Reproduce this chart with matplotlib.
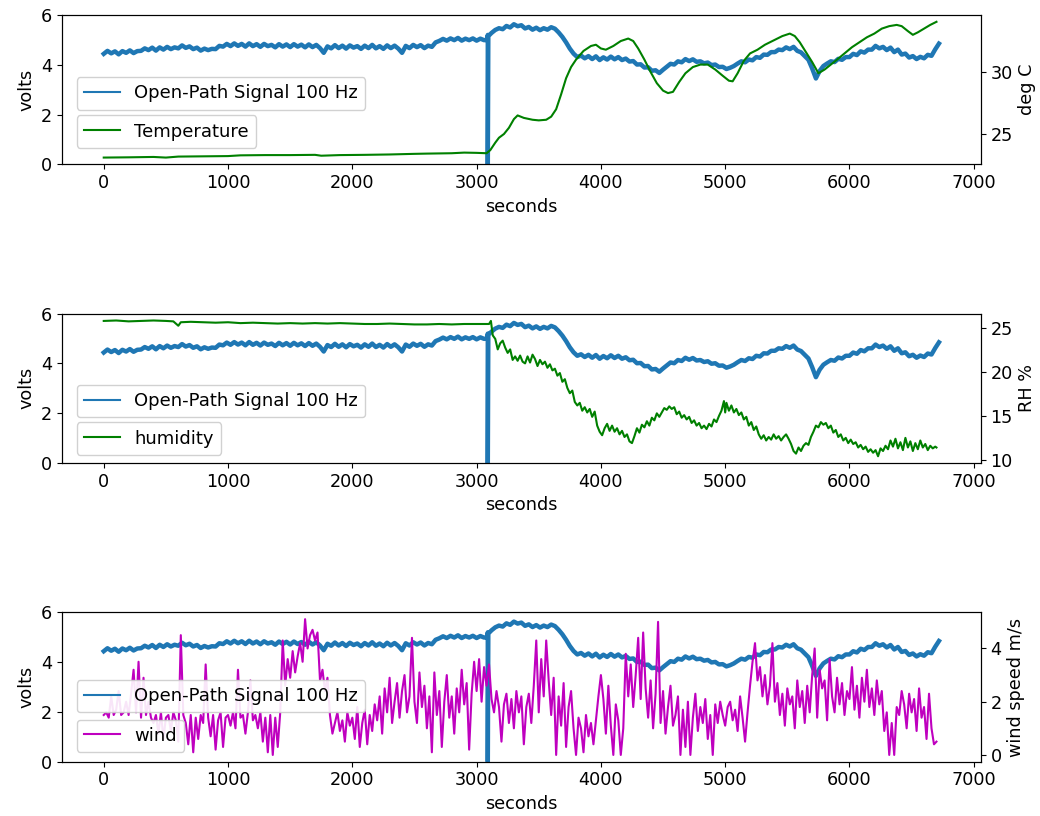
import numpy as np
import matplotlib
matplotlib.use("Agg")
import matplotlib.pyplot as plt

plt.rcParams['font.size'] = 12.7
plt.rcParams['font.family'] = ['DejaVu Sans']

# ---------------- data ----------------
signal_step = 30  # seconds between regular signal samples
signal_volts = [
    4.44, 4.56, 4.46, 4.54, 4.42, 4.55, 4.48, 4.58, 4.47, 4.55,
    4.56, 4.66, 4.59, 4.69, 4.57, 4.70, 4.61, 4.72, 4.63, 4.70,
    4.66, 4.78, 4.68, 4.74, 4.63, 4.69, 4.57, 4.65, 4.59, 4.64,
    4.63, 4.76, 4.73, 4.84, 4.75, 4.86, 4.76, 4.84, 4.73, 4.86,
    4.75, 4.83, 4.72, 4.84, 4.75, 4.80, 4.70, 4.83, 4.73, 4.82,
    4.71, 4.83, 4.73, 4.81, 4.70, 4.82, 4.71, 4.80, 4.67, 4.48,
    4.74, 4.66, 4.79, 4.67, 4.77, 4.65, 4.78, 4.69, 4.75, 4.64,
    4.77, 4.67, 4.80, 4.66, 4.75, 4.64, 4.78, 4.67, 4.77, 4.65,
    4.48, 4.76, 4.67, 4.80, 4.71, 4.79, 4.67, 4.77, 4.72, 4.90,
    4.96, 5.04, 4.97, 5.06, 4.99, 5.08, 4.97, 5.05, 4.99, 5.06,
    4.97, 5.05, 4.99, 5.20, 5.28, 5.40, 5.47, 5.43, 5.56, 5.50,
    5.63, 5.55, 5.59, 5.46, 5.52, 5.41, 5.49, 5.39, 5.47, 5.41,
    5.51, 5.45, 5.30, 5.12, 4.90, 4.65, 4.45, 4.31, 4.37, 4.26,
    4.35, 4.23, 4.34, 4.19, 4.30, 4.21, 4.33, 4.22, 4.31, 4.19,
    4.25, 4.13, 4.15, 4.01, 4.02, 3.89, 3.90, 3.76, 3.78, 3.67,
    3.80, 3.92, 4.04, 4.01, 4.14, 4.10, 4.23, 4.15, 4.22, 4.12,
    4.14, 4.06, 4.09, 3.99, 4.01, 3.91, 3.92, 3.83, 3.88, 3.95,
    4.05, 4.14, 4.10, 4.21, 4.18, 4.31, 4.28, 4.41, 4.40, 4.51,
    4.51, 4.61, 4.59, 4.70, 4.63, 4.72, 4.56, 4.50, 4.35, 4.20,
    3.85, 3.45, 3.75, 3.95, 4.05, 4.14, 4.11, 4.24, 4.20, 4.31,
    4.31, 4.44, 4.39, 4.54, 4.49, 4.61, 4.61, 4.76, 4.66, 4.72,
    4.59, 4.69, 4.51, 4.61, 4.41, 4.45, 4.29, 4.35, 4.23, 4.32,
    4.26, 4.40, 4.36, 4.62, 4.85,
]
# short sensor dropout near 3090 s
dropout_t = [3086, 3090, 3094]
dropout_v = [5.00, 0.00, 5.15]

temp_t = [0, 200, 400, 500, 600, 800, 1000, 1100, 1300, 1500, 1700, 1750, 1900,
          2100, 2300, 2500, 2600, 2800, 2900, 3000, 3080, 3110, 3150, 3180, 3220,
          3260, 3300, 3330, 3380, 3450, 3500, 3560, 3600, 3640, 3680, 3720, 3760,
          3800, 3860, 3920, 3960, 4000, 4040, 4100, 4160, 4220, 4260, 4300, 4350,
          4400, 4450, 4500, 4540, 4580, 4630, 4680, 4740, 4800, 4860, 4920, 4980,
          5030, 5060, 5100, 5150, 5200, 5260, 5320, 5400, 5460, 5520, 5560, 5600,
          5650, 5700, 5750, 5800, 5850, 5900, 5960, 6020, 6080, 6140, 6200, 6260,
          6320, 6380, 6420, 6470, 6510, 6550, 6600, 6650, 6700]
temp_c = [23.10, 23.12, 23.15, 23.10, 23.18, 23.20, 23.22, 23.28, 23.30, 23.30,
          23.32, 23.25, 23.30, 23.32, 23.35, 23.40, 23.42, 23.45, 23.50, 23.48,
          23.45, 23.70, 24.30, 24.70, 25.00, 25.50, 26.20, 26.50, 26.30, 26.15,
          26.10, 26.15, 26.40, 27.00, 28.20, 29.50, 30.40, 31.00, 31.70, 32.10,
          32.20, 31.90, 31.80, 32.10, 32.50, 32.70, 32.50, 31.90, 31.00, 30.00,
          29.10, 28.50, 28.30, 28.40, 29.20, 29.90, 30.40, 30.60, 30.60, 30.20,
          29.70, 29.30, 29.25, 29.90, 30.90, 31.50, 31.80, 32.20, 32.60, 32.90,
          33.10, 32.90, 32.40, 31.60, 30.80, 29.90, 30.20, 30.60, 31.00, 31.50,
          32.00, 32.40, 32.80, 33.10, 33.50, 33.70, 33.80, 33.70, 33.30, 33.00,
          33.20, 33.50, 33.80, 34.05]

hum_t = [0, 100, 200, 300, 400, 500, 560, 600, 620, 700, 800, 900, 1000, 1100,
         1200, 1300, 1400, 1500, 1600, 1700, 1800, 1900, 2000, 2100, 2200, 2300,
         2400, 2500, 2600, 2700, 2800, 2900, 3000, 3100, 3115] + list(range(3130, 4990, 20)) + \
        [4990, 5000] + list(range(5010, 6700, 20)) + [6700]
hum_rh = [25.85, 25.90, 25.80, 25.85, 25.90, 25.85, 25.80, 25.30, 25.70, 25.75,
          25.70, 25.65, 25.70, 25.60, 25.65, 25.60, 25.55, 25.60, 25.55, 25.60,
          25.55, 25.60, 25.55, 25.50, 25.50, 25.55, 25.50, 25.45, 25.45, 25.50,
          25.45, 25.50, 25.50, 25.50, 25.85,
          # 3130 .. 4970 step 20
          24.2, 23.8, 22.6, 23.3, 23.6, 22.8, 22.2, 22.6, 21.4, 21.8,
          21.3, 21.9, 21.2, 21.0, 21.8, 21.1, 22.0, 21.5, 20.7, 21.4,
          20.9, 21.2, 20.5, 20.9, 20.2, 20.4, 19.6, 19.9, 18.9, 19.2,
          18.2, 17.6, 17.9, 16.6, 16.2, 16.5, 15.6, 16.0, 15.4, 15.8,
          14.9, 15.5, 13.9, 13.2, 12.8, 13.6, 14.1, 13.3, 13.9, 13.2,
          13.6, 12.9, 13.3, 12.6, 12.9, 12.1, 11.9, 12.7, 13.6, 13.1,
          14.0, 13.7, 14.4, 13.9, 14.8, 14.5, 15.3, 14.9, 15.4, 15.9,
          15.7, 16.1, 15.8, 16.0, 15.2, 15.5, 14.8, 15.1, 14.6, 14.9,
          14.2, 14.5, 13.9, 14.2, 13.6, 13.9, 13.5, 14.1, 13.8, 14.6,
          14.3, 15.0, 15.6,
          # 4990, 5000
          16.7, 15.4,
          # 5010 .. 6690 step 20
          16.5, 15.6, 16.2, 15.4, 15.8, 15.1, 15.4, 14.6, 14.9, 13.9,
          14.3, 13.4, 13.8, 12.9, 12.4, 12.8, 12.2, 12.6, 12.3, 12.9,
          12.4, 12.7, 12.2, 12.6, 12.9, 12.4, 11.8, 11.0, 10.7, 11.4,
          11.0, 11.6, 11.9, 11.7, 12.6, 13.2, 13.9, 13.7, 14.3, 14.0,
          14.2, 13.6, 13.9, 13.1, 13.4, 12.6, 12.9, 12.2, 12.5, 11.9,
          12.3, 11.8, 12.0, 11.4, 11.7, 11.2, 11.5, 10.9, 11.2, 10.8,
          11.1, 10.4, 11.3, 11.0, 11.6, 11.2, 12.2, 11.5, 12.4, 11.3,
          12.0, 11.1, 12.5, 11.4, 12.1, 11.0, 11.9, 11.2, 12.2, 11.4,
          11.8, 11.1, 11.6, 11.3, 11.5,
          # 6700
          11.4]

wind_step = 20  # seconds between wind samples
wind_ms = [
    1.5, 1.6, 1.4, 2.2, 1.5, 1.7, 2.4, 1.5, 1.6, 2.0,
    1.5, 2.3, 3.2, 1.6, 3.5, 1.4, 2.9, 1.5, 2.0, 1.4,
    1.2, 1.5, 0.8, 1.6, 0.6, 1.4, 1.5, 0.9, 1.6, 1.3,
    0.5, 4.5, 1.5, 1.2, 0.4, 1.5, 0.1, 1.4, 0.6, 1.5,
    1.2, 3.4, 1.4, 0.7, 1.5, 0.2, 1.3, 1.6, 0.3, 1.4,
    1.5, 1.1, 1.6, 1.0, 3.2, 1.4, 1.5, 0.8, 1.6, 2.8,
    1.3, 1.5, 1.0, 1.6, 0.5, 1.4, 0.1, 1.5, 0.0, 1.4,
    0.3, 1.6, 4.3, 2.6, 3.6, 2.9, 3.9, 3.1, 3.7, 4.2,
    3.5, 5.1, 4.0, 4.5, 4.7, 4.3, 4.6, 2.8, 3.2, 2.4,
    2.9, 1.5, 0.8, 1.2, 1.6, 0.9, 1.3, 0.5, 1.6, 1.1,
    1.4, 0.6, 1.8, 0.3, 1.2, 1.7, 0.4, 1.5, 0.9, 1.9,
    1.3, 2.2, 0.8, 2.5, 1.6, 2.9, 1.2, 2.0, 2.7, 1.4,
    2.4, 3.0, 1.6, 2.2, 4.4, 2.0, 1.2, 3.1, 1.8, 2.6,
    1.0, 2.2, 0.1, 3.1, 1.5, 2.4, 0.3, 2.0, 3.0, 1.4,
    2.2, 0.8, 2.5, 1.6, 3.2, 1.9, 2.7, 0.2, 2.3, 3.5,
    2.4, 3.6, 2.0, 3.3, 2.6, 3.4, 2.1, 1.6, 2.4, 1.8,
    0.5, 1.9, 2.3, 1.2, 2.1, 1.0, 2.4, 1.6, 2.2, 0.4,
    1.8, 2.3, 1.2, 2.6, 4.3, 1.6, 3.6, 2.2, 4.3, 2.8,
    1.5, 2.9, 0.0, 2.2, 1.1, 2.7, 0.3, 1.8, 2.4, 1.0,
    0.0, 1.4, 1.0, 0.1, 1.5, 0.7, 1.2, 0.4, 1.3, 2.2,
    3.0, 2.1, 0.8, 2.6, 1.1, 0.0, 1.9, 1.3, 0.0, 1.0,
    3.8, 2.2, 3.4, 1.8, 3.0, 4.4, 2.1, 4.6, 2.5, 1.4,
    2.8, 1.0, 2.3, 5.0, 1.2, 2.4, 0.8, 1.8, 2.6, 1.1,
    1.5, 2.2, 0.0, 1.7, 0.3, 2.0, 0.0, 1.4, 2.3, 0.9,
    1.8, 1.2, 2.1, 0.6, 1.5, 0.0, 1.9, 1.2, 2.0, 1.5,
    1.1, 1.8, 2.0, 1.3, 1.7, 0.9, 2.2, 1.4, 0.5, 1.6,
    2.6, 3.5, 4.2, 2.8, 3.3, 2.2, 3.0, 1.9, 2.6, 4.2,
    2.0, 2.7, 1.5, 2.3, 1.1, 2.5, 1.9, 2.2, 1.0, 2.8,
    1.8, 2.4, 1.2, 2.6, 1.6, 3.0, 4.0, 1.4, 3.2, 2.5,
    2.8, 1.3, 3.6, 2.2, 1.6, 2.9, 1.9, 2.7, 1.5, 2.4,
    2.1, 3.3, 1.7, 2.6, 1.4, 2.9, 2.0, 3.2, 1.8, 2.5,
    1.5, 2.8, 1.9, 2.4, 0.9, 1.6, 0.0, 1.2, 0.0, 1.8,
    1.5, 2.4, 1.9, 1.0, 2.3, 1.6, 2.1, 0.9, 2.5, 1.4,
    1.8, 0.6, 2.3, 1.0, 0.4, 0.5,
]

# merge regular signal samples with the dropout samples (sorted by time)
sig_t = np.concatenate([np.arange(len(signal_volts)) * signal_step, dropout_t])
sig_v = np.concatenate([signal_volts, dropout_v])
order = np.argsort(sig_t, kind='stable')
signal_t = sig_t[order]
signal_v = sig_v[order]
wind_t = np.arange(len(wind_ms)) * wind_step

panels = [
    dict(t=temp_t, y=temp_c, color='g', label='Temperature', ylabel='deg C',
         leg1=(0.016, 0.367), leg2=(0.016, 0.11)),
    dict(t=hum_t, y=hum_rh, color='g', label='humidity', ylabel='RH %',
         leg1=(0.016, 0.307), leg2=(0.016, 0.055)),
    dict(t=wind_t, y=wind_ms, color='m', label='wind', ylabel='wind speed m/s',
         leg1=(0.016, 0.33), leg2=(0.016, 0.065)),
]

fig, axes = plt.subplots(3, 1, figsize=(10.4, 8.16), dpi=100)
fig.subplots_adjust(left=0.0596, right=0.943, top=0.9816, bottom=0.0665, hspace=1.0)

for ax, p in zip(axes, panels):
    l1, = ax.plot(signal_t, signal_v, color='C0', lw=3.2,
                  label='Open-Path Signal 100 Hz')
    ax.set_ylim(0, 6)
    ax.set_yticks([0, 2, 4, 6])
    ax.set_ylabel('volts')
    ax.set_xlabel('seconds')
    ax2 = ax.twinx()
    l2, = ax2.plot(p['t'], p['y'], color=p['color'], lw=1.5, label=p['label'])
    ax2.set_ylabel(p['ylabel'])
    h1 = plt.Line2D([], [], color='C0', lw=1.5)
    leg1 = ax2.legend(handles=[h1], labels=['Open-Path Signal 100 Hz'],
                      loc='lower left', bbox_to_anchor=p['leg1'],
                      borderaxespad=0, fontsize=13, framealpha=0.9)
    ax2.add_artist(leg1)
    ax2.legend(handles=[l2], loc='lower left', bbox_to_anchor=p['leg2'],
               borderaxespad=0, fontsize=13, framealpha=0.9)

fig.savefig('out.png', dpi=100)
